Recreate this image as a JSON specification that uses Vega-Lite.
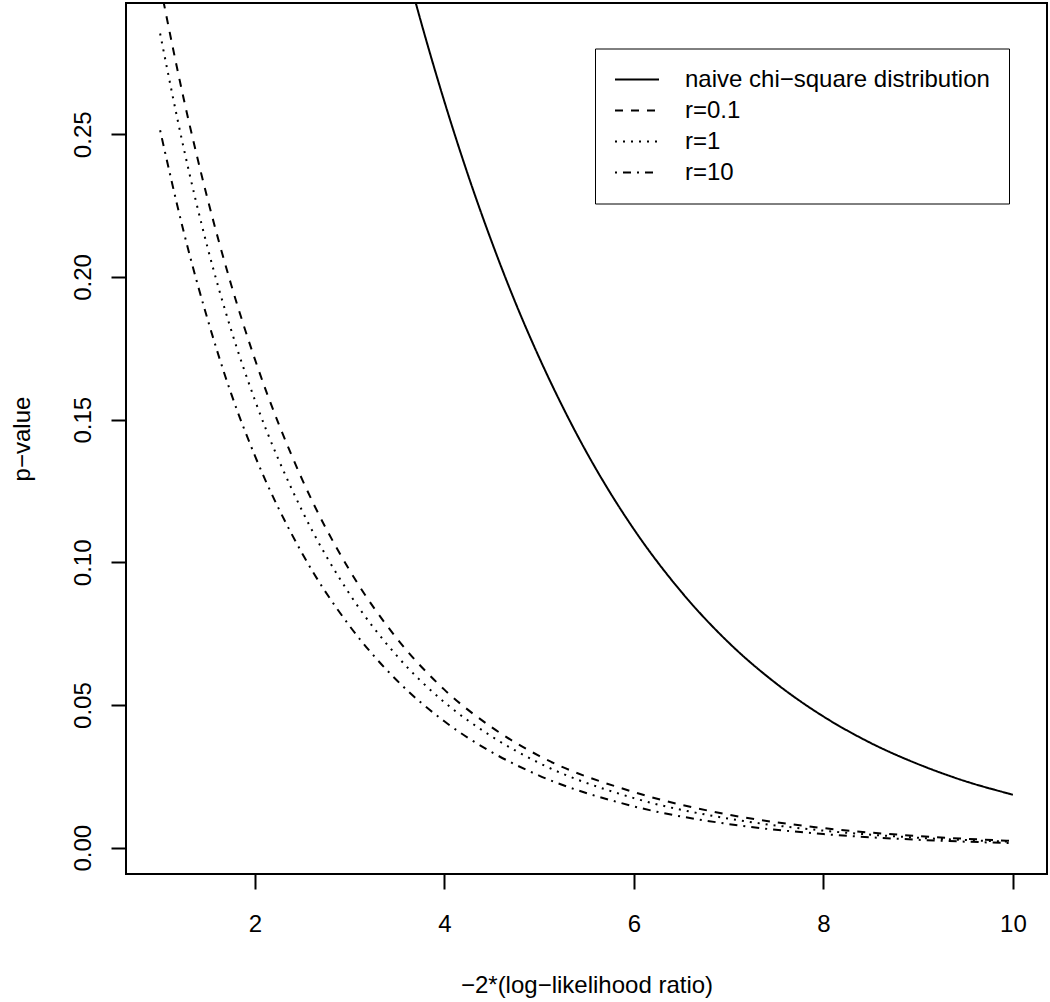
{
  "$schema": "https://vega.github.io/schema/vega-lite/v6.json",
  "width": 921,
  "height": 871,
  "autosize": {"type": "none"},
  "padding": {"left": 126, "top": 3, "right": 3, "bottom": 128},
  "background": "white",
  "config": {
    "font": "Liberation Sans",
    "view": {"stroke": "black", "strokeWidth": 2},
    "axis": {
      "domain": false,
      "grid": false,
      "tickColor": "black",
      "tickWidth": 2,
      "tickSize": 15,
      "labelFont": "Liberation Sans",
      "labelFontSize": 24,
      "labelColor": "black",
      "titleFont": "Liberation Sans",
      "titleFontSize": 24,
      "titleFontWeight": "normal",
      "titleColor": "black"
    }
  },
  "data": {
    "values": [
      {"x": 1, "p": 0.8013, "curve": "naive chi−square distribution"},
      {"x": 1.5, "p": 0.6823, "curve": "naive chi−square distribution"},
      {"x": 2, "p": 0.5724, "curve": "naive chi−square distribution"},
      {"x": 2.5, "p": 0.4753, "curve": "naive chi−square distribution"},
      {"x": 3, "p": 0.3916, "curve": "naive chi−square distribution"},
      {"x": 3.25, "p": 0.3547, "curve": "naive chi−square distribution"},
      {"x": 3.5, "p": 0.3208, "curve": "naive chi−square distribution"},
      {"x": 3.75, "p": 0.2898, "curve": "naive chi−square distribution"},
      {"x": 4, "p": 0.2615, "curve": "naive chi−square distribution"},
      {"x": 4.25, "p": 0.2357, "curve": "naive chi−square distribution"},
      {"x": 4.5, "p": 0.2123, "curve": "naive chi−square distribution"},
      {"x": 4.75, "p": 0.1910, "curve": "naive chi−square distribution"},
      {"x": 5, "p": 0.1718, "curve": "naive chi−square distribution"},
      {"x": 5.25, "p": 0.1544, "curve": "naive chi−square distribution"},
      {"x": 5.5, "p": 0.1386, "curve": "naive chi−square distribution"},
      {"x": 5.75, "p": 0.1244, "curve": "naive chi−square distribution"},
      {"x": 6, "p": 0.1116, "curve": "naive chi−square distribution"},
      {"x": 6.5, "p": 0.0897, "curve": "naive chi−square distribution"},
      {"x": 7, "p": 0.0719, "curve": "naive chi−square distribution"},
      {"x": 7.5, "p": 0.0576, "curve": "naive chi−square distribution"},
      {"x": 8, "p": 0.0460, "curve": "naive chi−square distribution"},
      {"x": 8.5, "p": 0.0367, "curve": "naive chi−square distribution"},
      {"x": 9, "p": 0.0293, "curve": "naive chi−square distribution"},
      {"x": 9.5, "p": 0.0233, "curve": "naive chi−square distribution"},
      {"x": 10, "p": 0.0186, "curve": "naive chi−square distribution"},

      {"x": 1, "p": 0.3024, "curve": "r=0.1"},
      {"x": 1.25, "p": 0.2623, "curve": "r=0.1"},
      {"x": 1.5, "p": 0.2275, "curve": "r=0.1"},
      {"x": 1.75, "p": 0.1973, "curve": "r=0.1"},
      {"x": 2, "p": 0.1712, "curve": "r=0.1"},
      {"x": 2.5, "p": 0.1290, "curve": "r=0.1"},
      {"x": 3, "p": 0.0972, "curve": "r=0.1"},
      {"x": 3.5, "p": 0.0733, "curve": "r=0.1"},
      {"x": 4, "p": 0.0554, "curve": "r=0.1"},
      {"x": 4.5, "p": 0.0422, "curve": "r=0.1"},
      {"x": 5, "p": 0.0322, "curve": "r=0.1"},
      {"x": 6, "p": 0.0195, "curve": "r=0.1"},
      {"x": 7, "p": 0.0116, "curve": "r=0.1"},
      {"x": 8, "p": 0.0069, "curve": "r=0.1"},
      {"x": 9, "p": 0.0041, "curve": "r=0.1"},
      {"x": 10, "p": 0.0024, "curve": "r=0.1"},

      {"x": 1, "p": 0.2853, "curve": "r=1"},
      {"x": 1.25, "p": 0.2450, "curve": "r=1"},
      {"x": 1.5, "p": 0.2104, "curve": "r=1"},
      {"x": 1.75, "p": 0.1814, "curve": "r=1"},
      {"x": 2, "p": 0.1569, "curve": "r=1"},
      {"x": 2.5, "p": 0.1180, "curve": "r=1"},
      {"x": 3, "p": 0.0889, "curve": "r=1"},
      {"x": 3.5, "p": 0.0672, "curve": "r=1"},
      {"x": 4, "p": 0.0510, "curve": "r=1"},
      {"x": 4.5, "p": 0.0390, "curve": "r=1"},
      {"x": 5, "p": 0.0297, "curve": "r=1"},
      {"x": 6, "p": 0.0174, "curve": "r=1"},
      {"x": 7, "p": 0.0102, "curve": "r=1"},
      {"x": 8, "p": 0.0060, "curve": "r=1"},
      {"x": 9, "p": 0.0035, "curve": "r=1"},
      {"x": 10, "p": 0.0021, "curve": "r=1"},

      {"x": 1, "p": 0.2514, "curve": "r=10"},
      {"x": 1.25, "p": 0.2157, "curve": "r=10"},
      {"x": 1.5, "p": 0.1853, "curve": "r=10"},
      {"x": 1.75, "p": 0.1591, "curve": "r=10"},
      {"x": 2, "p": 0.1374, "curve": "r=10"},
      {"x": 2.5, "p": 0.1031, "curve": "r=10"},
      {"x": 3, "p": 0.0777, "curve": "r=10"},
      {"x": 3.5, "p": 0.0586, "curve": "r=10"},
      {"x": 4, "p": 0.0443, "curve": "r=10"},
      {"x": 4.5, "p": 0.0335, "curve": "r=10"},
      {"x": 5, "p": 0.0253, "curve": "r=10"},
      {"x": 6, "p": 0.0145, "curve": "r=10"},
      {"x": 7, "p": 0.0083, "curve": "r=10"},
      {"x": 8, "p": 0.0048, "curve": "r=10"},
      {"x": 9, "p": 0.0028, "curve": "r=10"},
      {"x": 10, "p": 0.0016, "curve": "r=10"}
    ]
  },
  "mark": {"type": "line", "clip": true, "strokeWidth": 2, "color": "black", "interpolate": "monotone"},
  "encoding": {
    "x": {
      "field": "x",
      "type": "quantitative",
      "scale": {"domain": [0.64, 10.36], "nice": false, "zero": false},
      "axis": {
        "values": [2, 4, 6, 8, 10],
        "title": "−2*(log−likelihood ratio)",
        "labelPadding": 23,
        "titleX": 460.5,
        "titleY": 118,
        "titleBaseline": "alphabetic",
        "titleAlign": "center"
      }
    },
    "y": {
      "field": "p",
      "type": "quantitative",
      "scale": {"domain": [-0.0092, 0.296], "nice": false, "zero": false},
      "axis": {
        "values": [0, 0.05, 0.1, 0.15, 0.2, 0.25],
        "format": ".2f",
        "title": "p−value",
        "labelAngle": 270,
        "labelAlign": "center",
        "labelBaseline": "alphabetic",
        "labelPadding": 21,
        "titleAngle": 270,
        "titleX": -96.5,
        "titleY": 435.5,
        "titleBaseline": "alphabetic",
        "titleAlign": "center"
      }
    },
    "strokeDash": {
      "field": "curve",
      "type": "nominal",
      "scale": {
        "domain": ["naive chi−square distribution", "r=0.1", "r=1", "r=10"],
        "range": [[1, 0], [8, 8], [2, 6], [2, 6, 8, 6]]
      },
      "legend": {
        "orient": "none",
        "legendX": 469,
        "legendY": 45.5,
        "title": null,
        "symbolType": "stroke",
        "symbolSize": 1936,
        "symbolStrokeWidth": 2,
        "symbolStrokeColor": "black",
        "labelFont": "Liberation Sans",
        "labelFontSize": 24,
        "labelColor": "black",
        "labelOffset": 25,
        "labelLimit": 0,
        "padding": 19,
        "rowPadding": 7,
        "clipHeight": 24,
        "strokeColor": "black",
        "fillColor": "white"
      }
    }
  }
}
